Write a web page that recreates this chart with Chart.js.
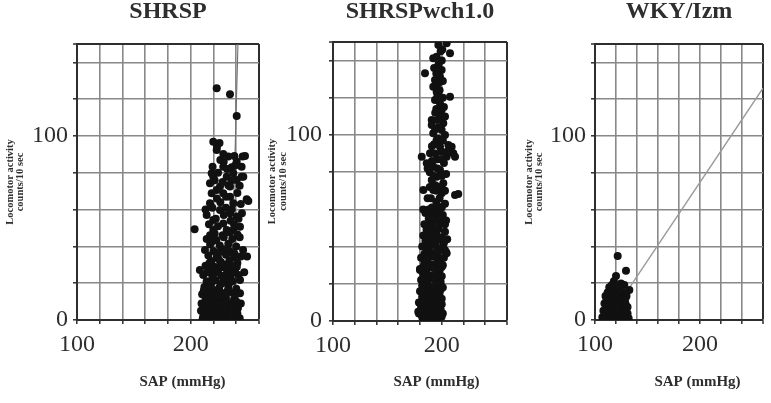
<!DOCTYPE html>
<html><head><meta charset="utf-8">
<script src="https://cdn.jsdelivr.net/npm/chart.js@4.4.1/dist/chart.umd.min.js"></script>
<style>
html,body{margin:0;padding:0;background:#fff;overflow:hidden;width:771px;height:403px;}
canvas{position:absolute;top:0;}
</style></head><body>
<canvas id="c1" width="365" height="403" style="left:0px"></canvas>
<canvas id="c2" width="349" height="403" style="left:262px"></canvas>
<canvas id="c3" width="365" height="403" style="left:515px"></canvas>
<script>
const panelTitles = ['SHRSP', 'SHRSPwch1.0', 'WKY/Izm'];
const xAxisTitle = 'SAP (mmHg)';
const yAxisTitle = ['Locomotor activity', 'counts/10 sec'];
const xTicks = [100, 120, 140, 160, 180, 200, 220, 240, 260];
const xTickLabels = [100, 200];
const yTicks = [0, 20, 40, 60, 80, 100, 120, 140, 150];
const yTickLabels = [0, 100];

// SHRSP: [SAP mmHg, counts/10 sec]
const shrspPoints = [
  [222.8,125.9],[234.5,122.7],[240.4,110.9],
  [219.8,96.9],[225.3,96.2],[222.8,92.4],[228.6,90.2],[233,88.8],[238.3,89.1],[245.6,88.8],[247.7,89.1],
  [240.4,86.2],[219.2,83.3],[228.6,83.3],[236,83],[244.7,83.3],
  [218.4,79.7],[219.8,77.9],[231.6,77.9],[237.4,79.7],[244.7,77.9],[240.4,76.1],
  [216.9,74.3],[225.7,72.5],[234.5,72.5],[233,73.3],[246.2,77.9],
  [218.4,68.9],[222.8,70.7],[228.6,68.9],[234.5,67],[237.4,63.4],[249.2,65.6],[250.6,64.7],
  [216.9,63.4],[225.7,59.8],[234.5,58],[240.4,56.2],
  [219.8,54.4],[228.6,52.5],[219.8,48.9],[231.6,48.9],[237.4,48.9],[243.3,50.7],[203.4,49.3],
  [214,57],[222,55],[231,61],[238,52],[245,58],[226,64],[217,46],[243,45],[246,38],[247,26],[244,9],[210,14],[209,5],
  [221,47],[228,46],[234,47.5],[241,46.5],[216,52],[224,51],[235,54],[242,55],[213,60],[219,61],[229,57],[236,60],
  [244,63],[223,66],[231,67],[241,69],[221,76],[228,75],[236,76],[243,73],[224,80],[232,82],[239,84],[226,87],[223,94],[229,86],
  [214,44],[222.5,43.5],[229,45],[236.5,44],
  [217,41],[225.5,40.5],[233,41.5],[240,40],
  [212.5,38],[220,37.5],[228,38.5],[235,37],[249.5,34.5],
  [215.5,35],[223,34.5],[231,35.5],[238,34],
  [218,32],[226.5,31.5],[234,32.5],[241,31],
  [213,29.5],[221,29],[229.5,28.5],[236,29.5],
  [208,27.2],[216,26.5],[224,27],[232,26],[239,27.5],
  [211,24.5],[219,23.5],[227,24],[235,23],[242,24.5],
  [214,21],[222,21.5],[230,20.5],[237,21],[243.3,21.7],
  [212,18],[217,18.5],[225,17.5],[233,18],[240,17],
  [215,15],[220,15.5],[228,14.5],[236,15],[243.3,14.5],
  [213,12],[218,12.5],[223,11.5],[231,12],[238,11],
  [216,10],[221,9.5],[226,10.5],[234,9],[240,10],
  [214,8],[219,7.5],[224,8.5],[229,7],[237,8],
  [212,6],[217,5.5],[222,6.5],[227,5],[232,6],[239,5.5],
  [215,4],[220,3.5],[225,4.5],[230,3],[235,4],[241,3.5],
  [211,2],[216,1.5],[221,2.5],[226,1],[231,2],[236,1.5],[240,2.5],
  [213,0.5],[218,0.8],[223,0.3],[228,0.6],[233,0.4],[238,0.7],
  [219.5,43],[226,37],[232.5,39],[216.5,31],[224.5,33],[230.5,30],[238.5,36],[214.5,26],[221.5,25.5],[229,22.5],
  [236.5,25.5],[218,20],[226.5,19.5],[234.5,20.5],[211.5,16],[219.5,16.5],[226.5,13],[232,15.5],[239,13.5],[214.5,10.5],
  [224,14],[229,9],[236,7],[209.5,9],[241.5,6.5],[212,3],[233.5,2.5],[210.5,0.5],[243,1],[219,28],[227,29.5],[233,29],
  [240.5,29],[244,34.5]
];
const shrspFit = [[235,0],[241.5,150]];

// SHRSPwch1.0
const wchPoints = [
  [196.9,148.4],[204.5,149.3],[200.5,146],[207.6,143.9],[192.2,141.2],[195.3,142.1],[184.6,133.2],[199.9,134.9],
  [198.4,131.3],[196.9,127.8],[193.8,129.6],[192.2,126],[195.3,123.3],[207.6,120.6],[193.8,118.8],[198.4,117],
  [199.9,113.4],[198.4,109.8],[201.4,106.3],[199.9,102.7],[190.8,108.1],[190.8,105.4],[192.2,100.9],[195.3,97.3],
  [198.4,93.7],[207.6,93.7],[210.6,90.2],[204.5,88.3],[209.1,93.7],[212.2,88.3],[206.1,94.6],[181.6,88.3],
  [189.2,90.2],[186.2,84.8],[192.2,83],[198.4,81.2],[195.3,77.6],[190.8,75.8],[201.4,74],[183.1,70.4],
  [192.2,70.4],[199.9,68.7],[215.2,68.3],[212.2,67.7],
  [197,138],[201,129],[196,121],[202,115],[194,112],[197,104],[203,100],[193,95],[200,91],[196,87],[202,85],
  [189,80],[204,79],[194,73],[198,72],[187,66],[195,64],[203,63],[191,61],[183,60],[200,61],[198,52],
  [205,44],[203,38],[204.5,36.4],
  [188,60],[196,62],[190,66],[198,66],[203,70],[189,72],[195,70],[193,78],[200,78],[187,82],[196,82],[191,86],
  [199,87],[194,90],[205,91],[191,94],[197,98],[194,103],[201,97],[196,108],[195,114],[201,120],[198,124],[195,133],
  [200,140],[193,136],[199,145],[203,110],[203,52],[194,57],[187,52],[189,42],[194,44],[201,40],[184,36],[190,35],
  [196,35],[202,34],[183,29],[189,29],[195,28],[200,29],[185,23],[191,24],[197,23],[182,19],[188,17],[194,18],
  [199,17],[184,14],[190,14],[196,14],[182,11],[188,10],[194,11],[200,9],[184,8],[190,7],[196,6],[181,5],[187,4],
  [193,5],[199,4.5],[185,1.5],[191,2.5],[196,1.5],
  [185,58],[190.5,57.5],[196,58.5],[201,57],
  [188,55],[193,54.5],[199,55.5],[204,54],
  [184,52],[191,51.5],[198,52.5],
  [186,49],[192,48.5],[197,49.5],[203,48],
  [183,46],[189,45.5],[195,46.5],[200,45],
  [185,43],[191,42.5],[197,43.5],[202,42],
  [182,40],[188,39.5],[194,40.5],[199,39],
  [186,37],[192,36.5],[197,37.5],[204,37],
  [181,34],[187,33.5],[193,34.5],[199,33],
  [184,31],[190,30.5],[196,31.5],[201,30],
  [180,28],[186,27.5],[192,28.5],[198,27],
  [183,25],[189,24.5],[195,25.5],[200,24],
  [181,22],[187,21.5],[193,22.5],[199,21],
  [184,19],[190,18.5],[196,19.5],[201,18],
  [180,16],[186,15.5],[192,16.5],[198,15],
  [182,13],[188,12.5],[194,13.5],[200,12],
  [179,10],[185,9.5],[191,10.5],[197,9],
  [181,7],[187,6.5],[193,7.5],[199,6],
  [179,4],[184,3.5],[190,4.5],[196,3],[201,4],
  [182,2],[188,1.5],[194,2.5],[199.9,2.3],
  [184,0.5],[191,0.8],[197,0.3],
  [178.4,5],[180,9.5],[180,27.4]
];
const wchFit = [[200,0],[200.4,150]];

// WKY/Izm
const wkyPoints = [
  [121.6,34.8],[129.5,26.8],[120,23.9],[113.6,17.8],[124.8,19.9],[127.9,19],[132.7,16.3],[131,3.6],[118,21],[116,19],[122,17.5],
  [112,15],[117,15.5],[122,14.5],[127,15],
  [110,13],[115,12.5],[120,13.5],[125,12],[130,13],
  [113,11],[118,10.5],[123,11.5],[128,10],
  [109,9],[114,8.5],[119,9.5],[124,8],[129,9],
  [111,7],[116,6.5],[121,7.5],[126,6],[131,7],
  [108,5],[113,4.5],[118,5.5],[123,4],[128,5],
  [110,3],[115,2.5],[120,3.5],[125,2],[130,3],
  [107,1.5],[112,1],[117,2],[122,1.2],[127,1.8],[132,1],
  [109,0.5],[114,0.3],[119,0.6],[124,0.4],[129,0.5],
  [111,11],[116,10],[121,9],[126,10],[112,5.5],[117,4],[122,5.5],[127,3],[118,16],[123,17],[114,14],[129,12]
];
const wkyFit = [[118,5],[260,126]];

const FONT = "'Liberation Serif', 'Times New Roman', serif";
const DARK = '#2e2e2e';
const GRID = '#888888';

function makePanel(id, title, points, fit, fitColor, geo) {
  new Chart(document.getElementById(id), {
    type: 'scatter',
    data: {
      datasets: [
        { data: points, yAxisID: 'y', xAxisID: 'x', pointRadius: 4, pointHoverRadius: 4,
          backgroundColor: '#111', borderWidth: 0 },
        { data: fit, yAxisID: 'y', xAxisID: 'x', showLine: true, pointRadius: 0,
          borderColor: fitColor, borderWidth: geo.fitWidth, fill: false }
      ]
    },
    options: {
      responsive: false, animation: false, events: [],
      layout: { padding: 0 },
      plugins: {
        legend: { display: false }, tooltip: { enabled: false },
        title: { display: true, text: title, fullSize: false, color: DARK,
          font: { family: FONT, size: 24, weight: 'bold', lineHeight: 1 },
          padding: { top: 0, bottom: geo.titlePad } },
        subtitle: { display: true, text: xAxisTitle, position: 'bottom', fullSize: true, color: DARK,
          font: { family: FONT, size: 15, weight: 'bold', lineHeight: 1 },
          padding: { top: 0, bottom: 13.5 } }
      },
      scales: {
        x: {
          type: 'linear', min: 100, max: 260, position: 'bottom',
          afterBuildTicks: s => { s.ticks = xTicks.map(v => ({ value: v })); },
          afterFit: s => { s.height = geo.xHeight; },
          ticks: { autoSkip: false, maxRotation: 0, minRotation: 0, padding: 6, color: DARK,
            font: { family: FONT, size: 24 },
            callback: v => xTickLabels.includes(v) ? String(v) : '' },
          grid: { color: c => (c.tick && c.tick.value === 260) ? DARK : GRID,
            lineWidth: c => (c.tick && c.tick.value === 260) ? 2 : 1.6,
            tickLength: 4, tickColor: DARK, tickWidth: 1.5 },
          border: { display: true, color: DARK, width: 2 }
        },
        y: {
          type: 'linear', min: 0, max: 150, position: 'left',
          afterBuildTicks: s => { s.ticks = yTicks.map(v => ({ value: v })); },
          afterFit: s => { s.width = geo.yWidth; },
          ticks: { autoSkip: false, padding: geo.yTickPad, color: DARK,
            font: { family: FONT, size: 24 },
            callback: v => yTickLabels.includes(v) ? String(v) : '' },
          grid: { color: c => (c.tick && c.tick.value === 150) ? DARK : GRID,
            lineWidth: c => (c.tick && c.tick.value === 150) ? 2 : 1.6,
            tickLength: 4, tickColor: DARK, tickWidth: 1.5 },
          border: { display: true, color: DARK, width: 2 },
          title: { display: true, text: yAxisTitle, color: DARK,
            font: { family: FONT, size: 10.5, weight: 'bold', lineHeight: 1 },
            padding: { top: geo.yTitlePad, bottom: 0 } }
        },
        yR: {
          type: 'linear', position: 'right', display: true,
          afterFit: s => { s.width = geo.rWidth; },
          ticks: { display: false }, grid: { display: false }, border: { display: false }
        }
      }
    }
  });
}

makePanel('c1', panelTitles[0], shrspPoints, shrspFit, '#707070',
  { yWidth: 77, rWidth: 106, titlePad: 20, xHeight: 54.5, yTickPad: 5, yTitlePad: 5, fitWidth: 1.1 });
makePanel('c2', panelTitles[1], wchPoints, wchFit, '#b0b0b0',
  { yWidth: 71, rWidth: 104, titlePad: 18, xHeight: 53.5, yTickPad: 7, yTitlePad: 5.5, fitWidth: 1.3 });
makePanel('c3', panelTitles[2], wkyPoints, wkyFit, '#9a9a9a',
  { yWidth: 80, rWidth: 117, titlePad: 20, xHeight: 54.5, yTickPad: 5, yTitlePad: 9, fitWidth: 1.4 });
</script>
</body></html>
